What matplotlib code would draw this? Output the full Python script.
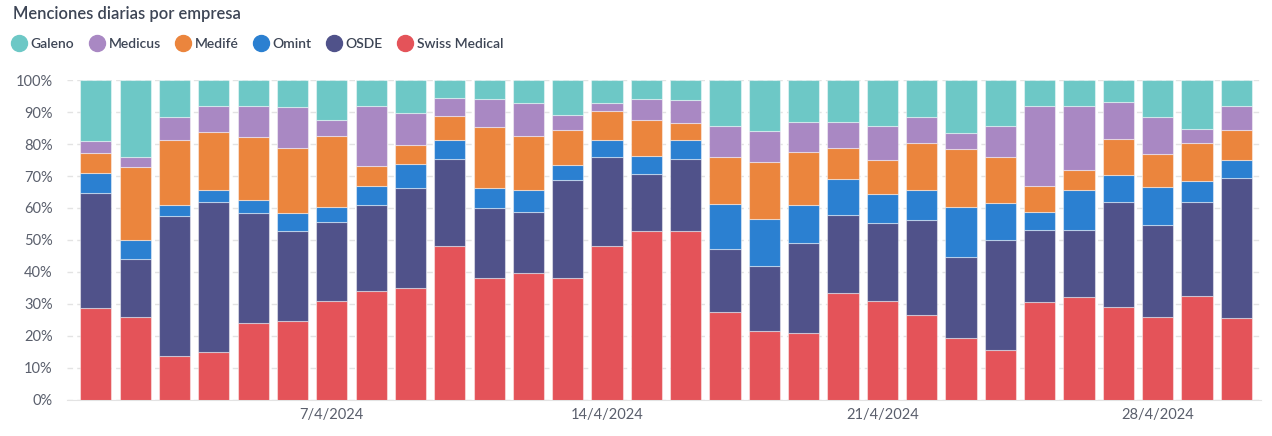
import matplotlib
matplotlib.use("Agg")
import matplotlib.pyplot as plt
from matplotlib.lines import Line2D
import numpy as np
import pandas as pd

plt.rcParams['font.family'] = ['Lato', 'DejaVu Sans']

dates = pd.date_range('2024-04-01', periods=30, freq='D')

# shares per day (%), bottom to top of the stack
swiss = [28.6, 25.8, 13.8, 14.9, 24.0, 24.6, 30.9, 34.1, 34.9, 48.1,
         38.0, 39.6, 38.0, 48.1, 52.8, 52.8, 27.4, 21.5, 20.8, 33.3,
         30.9, 26.6, 19.3, 15.6, 30.5, 32.1, 29.0, 25.8, 32.4, 25.5]
osde = [36.0, 18.4, 43.7, 46.9, 34.3, 28.1, 24.6, 26.9, 31.2, 27.3,
        21.9, 19.0, 30.8, 27.7, 17.9, 22.6, 19.9, 20.3, 28.2, 24.6,
        24.3, 29.8, 25.3, 34.4, 22.7, 21.1, 32.8, 29.0, 29.4, 43.8]
omint = [6.2, 5.8, 3.4, 3.8, 4.2, 5.6, 4.7, 5.8, 7.8, 5.9,
         6.2, 7.0, 4.6, 5.4, 5.4, 5.9, 14.0, 14.9, 11.9, 11.3,
         9.3, 9.3, 15.6, 11.7, 5.4, 12.5, 8.5, 11.7, 6.5, 5.8]
medife = [6.3, 22.7, 20.3, 18.0, 19.6, 20.3, 22.2, 6.2, 5.8, 7.3,
          19.1, 16.8, 11.1, 9.0, 11.5, 5.2, 14.5, 17.6, 16.5, 9.4,
          10.6, 14.5, 18.3, 14.1, 8.2, 6.3, 11.4, 10.5, 11.9, 9.4]
medicus = [3.7, 3.3, 7.1, 8.2, 9.7, 12.9, 5.1, 18.8, 9.9, 5.9,
           9.0, 10.5, 4.6, 2.5, 6.6, 7.4, 9.7, 9.7, 9.4, 8.2,
           10.4, 8.1, 4.8, 9.7, 25.0, 19.8, 11.3, 11.3, 4.6, 7.3]
galeno = [19.2, 24.0, 11.7, 8.2, 8.2, 8.5, 12.5, 8.2, 10.4, 5.5,
          5.8, 7.1, 10.9, 7.3, 5.8, 6.1, 14.5, 16.0, 13.2, 13.2,
          14.5, 11.7, 16.7, 14.5, 8.2, 8.2, 7.0, 11.7, 15.2, 8.2]

stack = [
    ('Swiss Medical', swiss, '#e45359'),
    ('OSDE', osde, '#50528a'),
    ('Omint', omint, '#2b80d1'),
    ('Medifé', medife, '#eb853d'),
    ('Medicus', medicus, '#a988c3'),
    ('Galeno', galeno, '#6dc8c6'),
]

vals = np.array([s[1] for s in stack], dtype=float)
vals = vals / vals.sum(axis=0) * 100

fig = plt.figure(figsize=(12.72, 4.36), dpi=100)
ax = fig.add_axes([0.0524, 0.0826, 0.9387, 0.7339])

x = np.arange(len(dates))
bottom = np.zeros(len(dates))
for (name, _, color), v in zip(stack, vals):
    ax.bar(x, v, bottom=bottom, width=0.79, color=color,
           edgecolor=(1, 1, 1, 0.45), linewidth=0.8, zorder=3)
    bottom += v

ax.set_xlim(-0.74, 29.62)
ax.set_ylim(0, 100)
ax.set_yticks(np.arange(0, 101, 10))
ax.set_yticklabels([f'{t}%' for t in range(0, 101, 10)])
ax.yaxis.grid(True, color='#e3e3e3', linestyle=(0, (4, 3)), linewidth=1, zorder=0)
ax.set_axisbelow(True)

tick_idx = [6, 13, 20, 27]
ax.set_xticks(tick_idx)
ax.set_xticklabels([f'{dates[i].day}/{dates[i].month}/{dates[i].year}' for i in tick_idx])

ax.tick_params(axis='both', length=0, labelsize=10.5, labelcolor='#5a5f6c')
ax.tick_params(axis='y', pad=10)
ax.tick_params(axis='x', pad=6)
for s in ['top', 'right', 'left']:
    ax.spines[s].set_visible(False)
ax.spines['bottom'].set_color('#e3e3e3')

fig.text(0.0102, 0.968, 'Menciones diarias por empresa', fontsize=11.9,
         fontweight='semibold', color='#3d4555', va='center', ha='left')

handles = [Line2D([], [], marker='o', linestyle='', markersize=11.5,
                  markerfacecolor=c, markeredgecolor=c, label=n)
           for n, _, c in stack[::-1]]
leg = fig.legend(handles=handles, loc='center left', bbox_to_anchor=(-0.002, 0.900),
                 ncol=6, frameon=False, handletextpad=0.2,
                 columnspacing=0.95, handlelength=1.3, labelcolor='#3d4555',
                 prop={'size': 10.0, 'weight': 'semibold'})

fig.savefig('out.png', dpi=100)
